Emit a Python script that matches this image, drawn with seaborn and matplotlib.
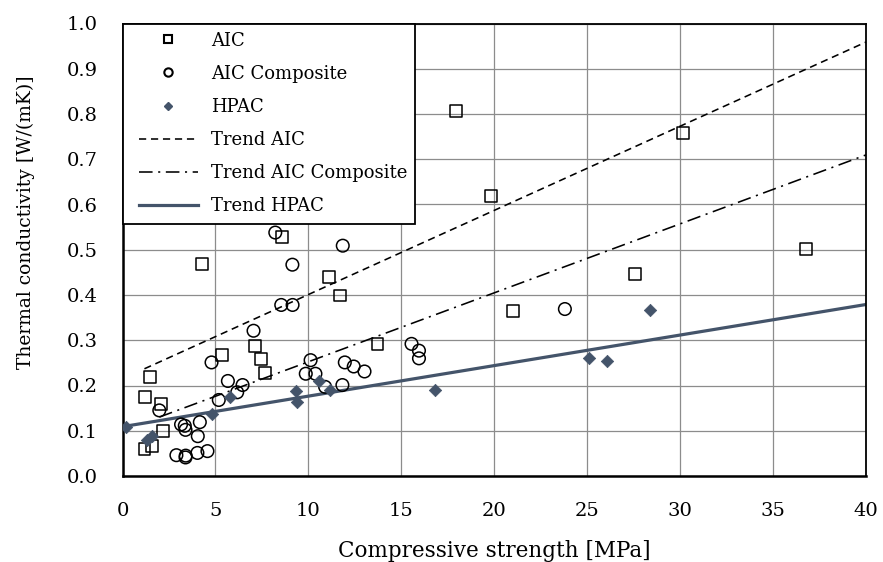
import numpy as np
import pandas as pd
import matplotlib
matplotlib.use("Agg")
import matplotlib.pyplot as plt
from matplotlib.lines import Line2D
from matplotlib.legend_handler import HandlerLine2D
import seaborn as sns

# AIC (squares)
aic_x = [1.18, 1.57, 2.2, 2.06, 1.19, 1.48, 4.27, 5.36, 7.14, 7.47, 7.65, 8.58,
         11.13, 11.72, 13.72, 17.93, 19.81, 21.01, 27.59, 30.16, 36.76]
aic_y = [0.059, 0.067, 0.100, 0.159, 0.174, 0.219, 0.469, 0.267, 0.288, 0.259, 0.227, 0.529,
         0.440, 0.399, 0.292, 0.807, 0.619, 0.365, 0.447, 0.758, 0.501]

# AIC composite (circles)
comp_x = [1.98, 2.9, 3.4, 3.39, 3.15, 3.35, 3.39, 4.03, 4.05, 4.16, 4.57, 5.18, 4.79, 5.67,
          6.17, 6.46, 7.05, 8.22, 8.54, 9.15, 9.14, 9.86, 10.12, 10.38, 10.9, 11.83, 11.96,
          12.44, 13.02, 11.85, 15.55, 15.95, 15.95, 23.8]
comp_y = [0.145, 0.046, 0.045, 0.041, 0.114, 0.111, 0.102, 0.051, 0.088, 0.119, 0.055, 0.168,
          0.251, 0.210, 0.185, 0.201, 0.321, 0.538, 0.378, 0.378, 0.467, 0.226, 0.256, 0.226,
          0.197, 0.201, 0.251, 0.242, 0.231, 0.509, 0.292, 0.277, 0.260, 0.369]

# HPAC (diamonds)
hpac_x = [0.17, 1.3, 1.6, 4.81, 5.8, 9.35, 9.39, 10.56, 11.19, 16.81, 25.08, 26.07, 28.37]
hpac_y = [0.108, 0.080, 0.088, 0.137, 0.174, 0.187, 0.164, 0.209, 0.189, 0.190, 0.260, 0.255, 0.366]

# linear trends: slope, intercept, start x
trend_names = ["Trend AIC", "Trend AIC Composite", "Trend HPAC"]
trend_slope = [0.0186, 0.01524, 0.00675]
trend_icept = [0.215, 0.100, 0.109]
trend_start = [1.18, 1.98, 0.0]
x_end = 40

slate = "#44546A"
plt.rcParams["font.family"] = ["DejaVu Serif"]

fig = plt.figure(figsize=(8.83, 5.62), dpi=100)
ax = fig.add_axes([122.5 / 883, 1 - 476 / 562, (866 - 122.5) / 883, (476 - 23.5) / 562])

# trend lines
styles = [dict(color="black", lw=1.15, ls=(0, (4.5, 3))),
          dict(color="black", lw=1.15, ls=(0, (8.5, 3.5, 1.3, 3.5))),
          dict(color=slate, lw=2.3, ls="-")]
for name, m, b, x0, st in zip(trend_names, trend_slope, trend_icept, trend_start, styles):
    tx = np.array([x0, x_end])
    df = pd.DataFrame({"x": tx, "y": m * tx + b})
    sns.lineplot(data=df, x="x", y="y", ax=ax, color=st["color"], lw=st["lw"],
                 linestyle=st["ls"], zorder=2)

sns.scatterplot(x=aic_x, y=aic_y, ax=ax, marker="s", s=72, facecolor="none",
                edgecolor="black", linewidth=1.1, zorder=3)
sns.scatterplot(x=comp_x, y=comp_y, ax=ax, marker="o", s=82, facecolor="none",
                edgecolor="black", linewidth=1.1, zorder=3)
sns.scatterplot(x=hpac_x, y=hpac_y, ax=ax, marker="D", s=40, color=slate,
                edgecolor=slate, linewidth=0.5, zorder=4)

ax.set_xlim(0, 40)
ax.set_ylim(0, 1.0)
ax.set_xticks(np.arange(0, 41, 5))
ax.set_yticks(np.arange(0, 1.01, 0.1))
ax.set_yticklabels([f"{v:.1f}" for v in np.arange(0, 1.01, 0.1)])
ax.grid(True, color="#8c8c8c", lw=0.9)
ax.set_axisbelow(True)
for side in ["left", "bottom"]:
    ax.spines[side].set_linewidth(1.8)
for side in ["top", "right"]:
    ax.spines[side].set_linewidth(1.3)
for sp in ax.spines.values():
    sp.set_color("black")
ax.tick_params(length=0, labelsize=14, pad=18)
ax.tick_params(axis="x", pad=19)

ax.set_xlabel("Compressive strength [MPa]", fontsize=15.5, labelpad=14)
ax.set_ylabel("Thermal conductivity [W/(mK)]", fontsize=13.5)
ax.yaxis.set_label_coords(-0.118, 0.562)

handles = [
    Line2D([], [], ls="none", marker="s", ms=6, mfc="none", mec="black", mew=1.5),
    Line2D([], [], ls="none", marker="o", ms=6, mfc="none", mec="black", mew=1.5),
    Line2D([], [], ls="none", marker="D", ms=4.5, color=slate),
    Line2D([], [], **{"color": "black", "lw": 1.15, "ls": (0, (4.5, 3))}),
    Line2D([], [], **{"color": "black", "lw": 1.15, "ls": (0, (8.5, 3.5, 1.3, 3.5))}),
    Line2D([], [], color=slate, lw=2.3),
]
labels = ["AIC", "AIC Composite", "HPAC"] + trend_names
leg = ax.legend(handles, labels, loc="upper left", bbox_to_anchor=(0, 1), borderaxespad=0,
                fontsize=13, frameon=True, fancybox=False, framealpha=1,
                edgecolor="black", handlelength=3.71, handletextpad=0.72,
                labelspacing=0.84, borderpad=0.45,
                handler_map={Line2D: HandlerLine2D(xpad=0.44)})
leg.get_frame().set_linewidth(1.3)
leg.set_zorder(10)

fig.savefig("out.png", dpi=100)
